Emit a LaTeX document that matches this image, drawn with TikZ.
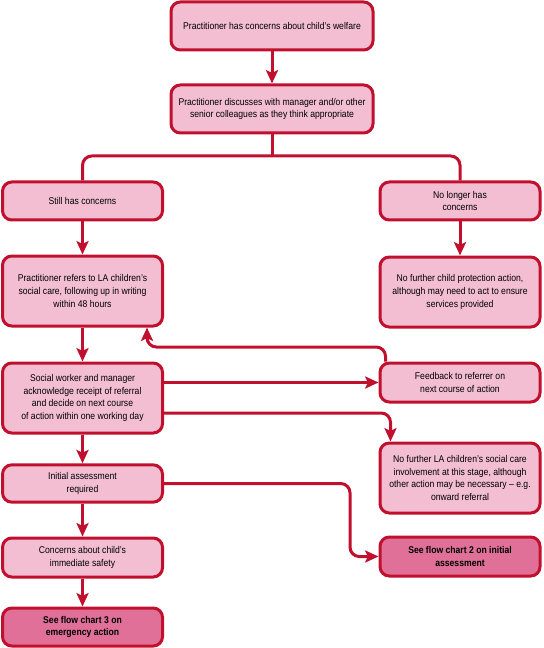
\documentclass[tikz,border=0pt]{standalone}
\usepackage{fontspec}
\setmainfont{Liberation Sans}[FakeStretch=0.88]
\usetikzlibrary{arrows.meta}
\definecolor{edgered}{RGB}{193,16,46}
\definecolor{lightpink}{RGB}{243,190,210}
\definecolor{deeppink}{RGB}{224,112,152}

\begin{document}
\begin{tikzpicture}[x=0.75pt,y=-0.75pt,
    box/.style={draw=edgered,fill=lightpink,line width=2.25pt,rounded corners=7pt,align=center,inner sep=2pt,font=\fontsize{7.35}{9.6}\selectfont},
    linkbox/.style={box,fill=deeppink,font=\fontsize{7.35}{9.6}\selectfont\bfseries},
    conn/.style={draw=edgered,line width=2.25pt,rounded corners=7pt},
    arr/.style={conn,-{Stealth[length=10pt,width=9pt,inset=2pt]}}]
    \useasboundingbox (0,0) rectangle (543,648);
    \node[box,minimum width=151.5pt,minimum height=36pt] (concern) at (272,26) {Practitioner has concerns about child’s welfare};
    \node[box,minimum width=151.5pt,minimum height=36pt] (discuss) at (272,109) {Practitioner discusses with manager and/or other\\senior colleagues as they think appropriate};
    \node[box,minimum width=120pt,minimum height=28.5pt] (still) at (82.5,201) {Still has concerns};
    \node[box,minimum width=120pt,minimum height=28.5pt] (nolonger) at (460,201) {No longer has\\concerns};
    \node[box,minimum width=120pt,minimum height=52.5pt] (refer) at (82.5,291) {Practitioner refers to LA children’s\\social care, following up in writing\\within 48 hours};
    \node[box,minimum width=120pt,minimum height=52.5pt] (noaction) at (460,292) {No further child protection action,\\although may need to act to ensure\\services provided};
    \node[box,minimum width=120pt,minimum height=52.5pt] (acknowledge) at (82.5,398) {Social worker and manager\\acknowledge receipt of referral\\and decide on next course\\of action within one working day};
    \node[box,minimum width=120pt,minimum height=29.25pt] (feedback) at (460,382.5) {Feedback to referrer on\\next course of action};
    \node[box,minimum width=120pt,minimum height=52.5pt] (nofurther) at (460,478) {No further LA children’s social care\\involvement at this stage, although\\other action may be necessary – e.g.\\onward referral};
    \node[box,minimum width=120pt,minimum height=28pt] (initial) at (82.5,483.5) {Initial assessment\\required};
    \node[linkbox,minimum width=120pt,minimum height=29.25pt] (chart2) at (460,556.5) {See flow chart 2 on initial\\assessment};
    \node[box,minimum width=120pt,minimum height=29.25pt] (safety) at (82.5,557.5) {Concerns about child’s\\immediate safety};
    \node[linkbox,minimum width=120pt,minimum height=28.5pt] (chart3) at (82.5,627) {See flow chart 3 on\\emergency action};
    \coordinate (split) at (272,156);
    \coordinate (fb) at (147,347);
    \coordinate (bend) at (350,520);
    \draw[arr] (concern) -- (discuss);
    \draw[conn] (discuss) -- (split);
    \draw[conn] (still.north) |- (split) -| (nolonger.north);
    \draw[arr] (still) -- (refer);
    \draw[arr] (nolonger) -- (noaction);
    \draw[arr] (refer) -- (acknowledge);
    \draw[arr] (acknowledge.east |- feedback.west) -- (feedback.west);
    \draw[arr] ([xshift=5.25pt]feedback.north west) |- (fb) -- (fb |- refer.south);
    \draw[arr] ([yshift=-11.25pt]acknowledge.east) -| ([xshift=9pt]nofurther.north west);
    \draw[arr] (acknowledge) -- (initial);
    \draw[arr] (initial.east) -| (bend) |- (chart2.west);
    \draw[arr] (initial) -- (safety);
    \draw[arr] (safety) -- (chart3);
\end{tikzpicture}
\end{document}
